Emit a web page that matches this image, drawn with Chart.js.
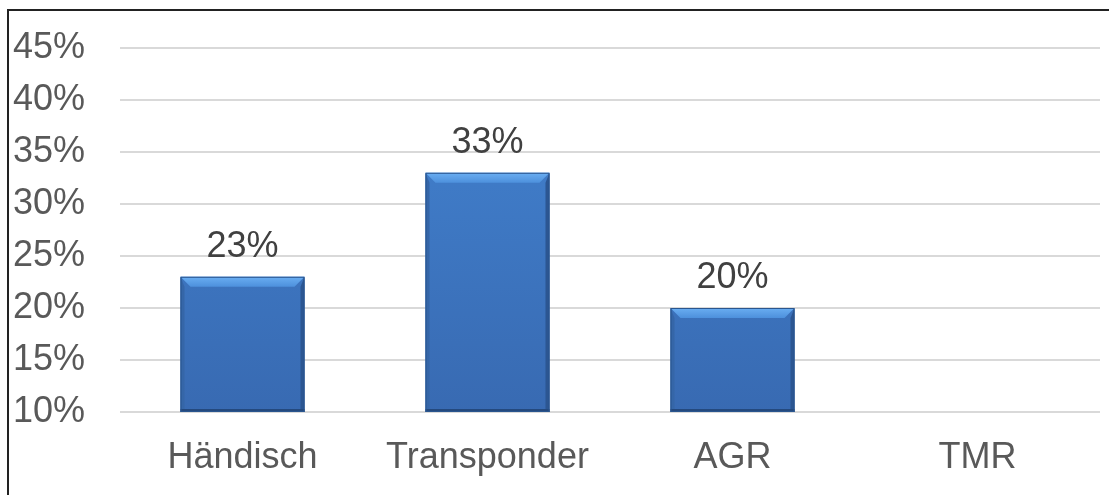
<!DOCTYPE html>
<html>
<head>
<meta charset="utf-8">
<script src="https://cdn.jsdelivr.net/npm/chart.js@4.4.0/dist/chart.umd.min.js"></script>
<style>
  html, body { margin: 0; padding: 0; background: #fff; }
  #wrap { position: relative; width: 1109px; height: 495px; overflow: hidden; }
  #frame { position: absolute; left: 7px; top: 9px; width: 1200px; height: 600px;
           border-left: 2px solid #222; border-top: 2px solid #222; }
  canvas { position: absolute; left: 0; top: 0; }
</style>
</head>
<body>
<div id="wrap">
  <div id="frame"></div>
  <canvas id="chart" width="1109" height="495"></canvas>
</div>
<script>
// chart values
const categories = ['Händisch', 'Transponder', 'AGR', 'TMR'];
const shares = [23, 33, 20, null];
const yTicks = [10, 15, 20, 25, 30, 35, 40, 45];

const labelFont = { family: 'Liberation Sans, Arial, sans-serif', size: 36 };

// bevelled bar look, drawn on top of the plain bars
const bevelPlugin = {
    id: 'bevel',
    afterDatasetsDraw(chart) {
        const ctx = chart.ctx;
        const area = chart.chartArea;
        chart.getDatasetMeta(0).data.forEach(function(bar, i) {
            if (shares[i] === null) return;
            const w = bar.width;
            const l = bar.x - w / 2, r = bar.x + w / 2;
            const t = bar.y, b = Math.min(bar.base, area.bottom);
            const bt = 10, bs = 4, bb = 3;
            ctx.save();
            // top bevel
            let g = ctx.createLinearGradient(0, t, 0, t + bt);
            g.addColorStop(0, '#6aaef2');
            g.addColorStop(1, '#4d90dc');
            ctx.fillStyle = g;
            ctx.beginPath();
            ctx.moveTo(l, t); ctx.lineTo(r, t); ctx.lineTo(r - bt, t + bt); ctx.lineTo(l + bt, t + bt);
            ctx.closePath(); ctx.fill();
            // left side
            ctx.fillStyle = '#3566a8';
            ctx.beginPath();
            ctx.moveTo(l, t); ctx.lineTo(l + bs, t + bt); ctx.lineTo(l + bs, b - bb); ctx.lineTo(l, b);
            ctx.closePath(); ctx.fill();
            // right side
            ctx.fillStyle = '#2c5692';
            ctx.beginPath();
            ctx.moveTo(r, t); ctx.lineTo(r - bs, t + bt); ctx.lineTo(r - bs, b - bb); ctx.lineTo(r, b);
            ctx.closePath(); ctx.fill();
            // bottom edge
            ctx.fillStyle = '#24497e';
            ctx.fillRect(l, b - bb, w, bb);
            // outline
            ctx.strokeStyle = '#2a568f';
            ctx.lineWidth = 1;
            ctx.strokeRect(l + 0.5, t + 0.5, w - 1, b - t - 1);
            ctx.restore();
        });
    }
};

// value labels above the bars
const valueLabels = {
    id: 'valueLabels',
    afterDatasetsDraw(chart) {
        const ctx = chart.ctx;
        ctx.save();
        ctx.font = labelFont.size + 'px ' + labelFont.family;
        ctx.fillStyle = '#404040';
        ctx.textAlign = 'center';
        ctx.textBaseline = 'alphabetic';
        chart.getDatasetMeta(0).data.forEach(function(bar, i) {
            if (shares[i] === null) return;
            ctx.fillText(shares[i] + '%', bar.x, bar.y - 20);
        });
        ctx.restore();
    }
};

const ctx = document.getElementById('chart').getContext('2d');
new Chart(ctx, {
    type: 'bar',
    data: {
        labels: categories,
        datasets: [{
            data: shares,
            backgroundColor: function(context) {
                const area = context.chart.chartArea;
                if (!area) return '#3d78c4';
                const g = context.chart.ctx.createLinearGradient(0, area.top, 0, area.bottom);
                g.addColorStop(0, '#4384d2');
                g.addColorStop(1, '#386ab2');
                return g;
            },
            borderWidth: 0,
            barPercentage: 0.506,
            categoryPercentage: 1
        }]
    },
    options: {
        responsive: false,
        animation: false,
        layout: { padding: { left: 13, right: 9, top: 48, bottom: 0 } },
        plugins: { legend: { display: false }, tooltip: { enabled: false } },
        scales: {
            x: {
                grid: { display: false },
                border: { display: false },
                ticks: { color: '#595959', font: labelFont, padding: 16 },
                afterFit: function(scale) { scale.height = 83; }
            },
            y: {
                min: 10,
                max: 45,
                afterBuildTicks: function(scale) {
                    scale.ticks = yTicks.map(v => ({ value: v }));
                },
                grid: { color: '#d9d9d9', lineWidth: 2, drawTicks: false },
                border: { display: false },
                ticks: {
                    color: '#595959',
                    font: labelFont,
                    padding: 0,
                    crossAlign: 'far',
                    callback: v => v + '%'
                },
                afterFit: function(scale) { scale.width = 107; }
            }
        }
    },
    plugins: [bevelPlugin, valueLabels]
});
</script>
</body>
</html>
